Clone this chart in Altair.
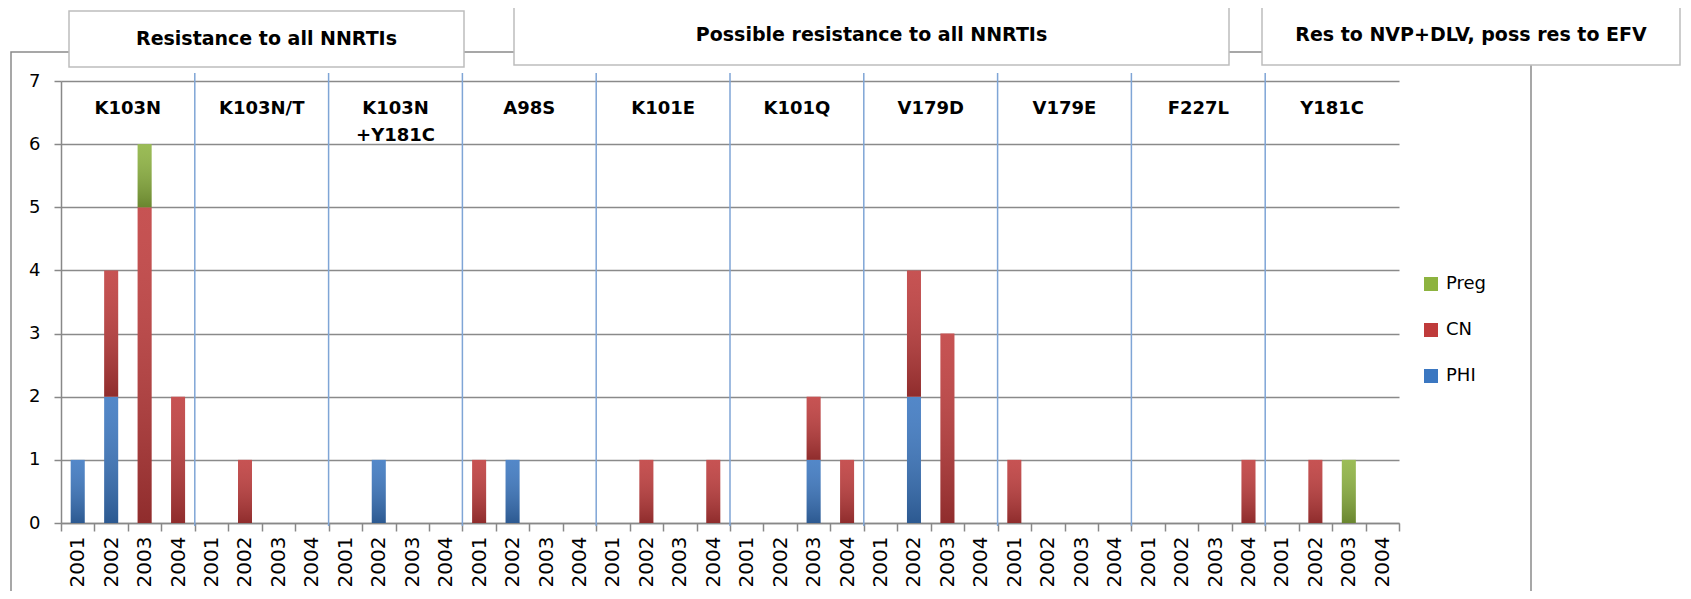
import altair as alt
import pandas as pd

groups = ["K103N", "K103N/T", "K103N+Y181C", "A98S", "K101E",
          "K101Q", "V179D", "V179E", "F227L", "Y181C"]
group_labels = ["K103N", "K103N/T", "K103N\n+Y181C", "A98S", "K101E",
                "K101Q", "V179D", "V179E", "F227L", "Y181C"]
years = ["2001", "2002", "2003", "2004"]
series = ["PHI", "CN", "Preg"]
legend_order = ["Preg", "CN", "PHI"]
legend_colors = ["#8DB33F", "#BF3B3B", "#3B77C1"]

#            K103N       K103N/T     K103N+Y181C A98S        K101E       K101Q       V179D       V179E       F227L       Y181C
phi  = [1, 2, 0, 0,  0, 0, 0, 0,  0, 1, 0, 0,  0, 1, 0, 0,  0, 0, 0, 0,  0, 0, 1, 0,  0, 2, 0, 0,  0, 0, 0, 0,  0, 0, 0, 0,  0, 0, 0, 0]
cn   = [0, 2, 5, 2,  0, 1, 0, 0,  0, 0, 0, 0,  1, 0, 0, 0,  0, 1, 0, 1,  0, 0, 1, 1,  0, 2, 3, 0,  1, 0, 0, 0,  0, 0, 0, 1,  0, 1, 0, 0]
preg = [0, 0, 1, 0,  0, 0, 0, 0,  0, 0, 0, 0,  0, 0, 0, 0,  0, 0, 0, 0,  0, 0, 0, 0,  0, 0, 0, 0,  0, 0, 0, 0,  0, 0, 0, 0,  0, 0, 1, 0]

box_titles = ["Resistance to all NNRTIs",
              "Possible resistance to all NNRTIs",
              "Res to NVP+DLV, poss res to EFV"]

FONT = "DejaVu Sans"
W, H = 1338, 442

rows = []
keys = []
for gi, g in enumerate(groups):
    for yi, y in enumerate(years):
        k = f"{g}|{y}"
        keys.append(k)
        idx = gi * len(years) + yi
        for si, (s, vals) in enumerate(zip(series, [phi, cn, preg])):
            rows.append(dict(key=k, s=s, ord=si, v=vals[idx]))
df = pd.DataFrame(rows)
df = df[df.v > 0]

xband = alt.Scale(domain=keys, paddingInner=0, paddingOuter=0)
yscale = alt.Scale(domain=[0, 7], nice=False)

bars = alt.Chart(df).mark_bar(size=14).encode(
    x=alt.X("key:N", sort=keys, scale=xband, title=None,
            axis=alt.Axis(labelExpr="split(datum.label, '|')[1]", labelAngle=-90,
                          tickBand="extent", tickSize=8, labelPadding=5,
                          labelFont=FONT, labelFontSize=20, labelColor="#000",
                          domainColor="#888", tickColor="#888",
                          domainWidth=1.5, tickWidth=1.5, grid=False)),
    y=alt.Y("v:Q", stack="zero", scale=yscale, title=None,
            axis=alt.Axis(values=list(range(8)), format="d", grid=True, gridColor="#8a8a8a",
                          gridWidth=1.5, tickSize=7, labelPadding=14,
                          labelFont=FONT, labelFontSize=18, labelColor="#000",
                          domainColor="#888", tickColor="#888",
                          domainWidth=1.5, tickWidth=1.5)),
    color=alt.Color("s:N", scale=alt.Scale(domain=legend_order, range=legend_colors),
                    legend=alt.Legend(title=None, orient="none", legendX=1361, legendY=194,
                                      symbolType="square", symbolSize=196,
                                      symbolStrokeWidth=0, labelFont=FONT,
                                      labelFontSize=18, labelColor="#000",
                                      rowPadding=28, labelOffset=6, padding=0)),
    order=alt.Order("ord:Q"),
)

shade = alt.Chart(df).mark_bar(
    size=14,
    color=alt.Gradient(gradient="linear", x1=0, x2=0, y1=0, y2=1,
                       stops=[alt.GradientStop(color="rgba(255,255,255,0.12)", offset=0),
                              alt.GradientStop(color="rgba(0,0,0,0.25)", offset=1)]),
).encode(
    x=alt.X("key:N", sort=keys, scale=xband, axis=None),
    y=alt.Y("v:Q", stack="zero", scale=yscale),
    detail="s:N",
    order=alt.Order("ord:Q"),
)

gdf = pd.DataFrame({"label": group_labels, "gx": [i + 0.5 for i in range(len(groups))],
                    "gy": [6.56] * len(groups)})
gscale = alt.Scale(domain=[0, len(groups)], nice=False, zero=False)
glabels = alt.Chart(gdf).mark_text(font=FONT, fontSize=18, fontWeight="bold",
                                   color="#000", baseline="middle", lineBreak="\n",
                                   lineHeight=27).encode(
    x=alt.X("gx:Q", scale=gscale, axis=None),
    y=alt.Y("gy:Q", scale=yscale),
    text="label:N",
)

sdf = pd.DataFrame({"gx": list(range(1, len(groups)))})
seps = alt.Chart(sdf).mark_rule(color="#7FA5D6", strokeWidth=1.5).encode(
    x=alt.X("gx:Q", scale=gscale, axis=None),
    y=alt.value(-8),
    y2=alt.value(H + 3),
)

one = pd.DataFrame({"a": [0]})
border = alt.Chart(one).mark_rect(fillOpacity=0, stroke="#8a8a8a", strokeWidth=1.5).encode(
    x=alt.value(-50), x2=alt.value(1470), y=alt.value(-29), y2=alt.value(540))

box_geo = [(8, 403, -70, -14), (453, 1168, -76, -16), (1201, 1619, -76, -16)]
decor = [border]
for t, (x1, x2, y1, y2) in zip(box_titles, box_geo):
    bd = pd.DataFrame({"t": [t]})
    decor.append(alt.Chart(bd).mark_rect(fill="white", stroke="#BDBDBD", strokeWidth=1.5).encode(
        x=alt.value(x1), x2=alt.value(x2), y=alt.value(y1), y2=alt.value(y2)))
    decor.append(alt.Chart(bd).mark_text(font=FONT, fontSize=19, fontWeight="bold",
                                         color="#000", baseline="middle").encode(
        x=alt.value((x1 + x2) / 2), y=alt.value((y1 + y2) / 2), text="t:N"))

chart = alt.layer(*decor, seps, bars, shade, glabels).resolve_scale(
    x="independent"
).properties(
    width=W, height=H,
    padding={"left": 53, "top": 73, "right": 284, "bottom": 68},
    autosize=alt.AutoSizeParams(type="none"),
).configure_view(stroke=None)

chart.save("out.html", embed_options={"renderer": "svg", "actions": False})
